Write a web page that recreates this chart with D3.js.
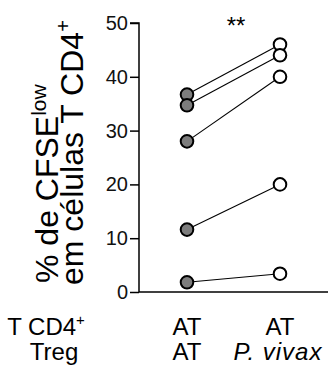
<!DOCTYPE html>
<html><head><meta charset="utf-8">
<script src="https://cdn.jsdelivr.net/npm/d3@7/dist/d3.min.js"></script>
<style>body{margin:0;background:#fff}svg{display:block}text{font-family:"Liberation Sans",Arial,sans-serif}</style>
</head><body>
<svg id="c" width="328" height="367"></svg>
<script>
const groups = ["AT|AT", "AT|P. vivax"];
const atValues = [36.7, 34.7, 28.0, 11.6, 1.8];
const vivaxValues = [46.0, 44.0, 40.0, 20.0, 3.4];
const yTicks = [0, 10, 20, 30, 40, 50];
const row1Labels = ["AT", "AT"];
const row2Labels = ["AT", "P. vivax"];

const svg = d3.select("#c");
const x = d3.scalePoint().domain(groups).range([187, 280]);
const y = d3.scaleLinear().domain([0, 50]).range([292, 23]);

// axes
const yAxis = d3.axisLeft(y).tickValues(yTicks).tickSize(9).tickPadding(2);
const gy = svg.append("g").attr("transform", "translate(139,0)").call(yAxis);
gy.select(".domain").attr("stroke", "#000").attr("stroke-width", 1.5).attr("d", `M-9,${y(50)}H0V${y(0)}`);
gy.selectAll(".tick line").attr("stroke-width", 1.5);
gy.selectAll(".tick text").attr("font-size", 20).attr("fill", "#111").attr("font-family", '"Liberation Sans",Arial,sans-serif');
svg.append("line").attr("x1", 139).attr("x2", 328).attr("y1", y(0)).attr("y2", y(0)).attr("stroke", "#000").attr("stroke-width", 1.5);

// pairs
const pairs = atValues.map((v, i) => ({a: v, b: vivaxValues[i]}));
svg.append("g").selectAll("line").data(pairs).join("line")
  .attr("x1", x(groups[0])).attr("x2", x(groups[1]))
  .attr("y1", d => y(d.a)).attr("y2", d => y(d.b))
  .attr("stroke", "#000").attr("stroke-width", 1.1);
svg.append("g").selectAll("circle").data(atValues).join("circle")
  .attr("cx", x(groups[0])).attr("cy", d => y(d)).attr("r", 6.3)
  .attr("fill", "#7d7d7d").attr("stroke", "#000").attr("stroke-width", 2);
svg.append("g").selectAll("circle").data(vivaxValues).join("circle")
  .attr("cx", x(groups[1])).attr("cy", d => y(d)).attr("r", 6.3)
  .attr("fill", "#fff").attr("stroke", "#000").attr("stroke-width", 2);

// significance
svg.append("text").attr("x", 236).attr("y", 34).attr("text-anchor", "middle").attr("font-size", 24).text("**");

// y title
const t1 = svg.append("text").attr("transform", "translate(58,283) rotate(-90)").attr("font-size", 32);
t1.append("tspan").text("% de CFSE");
t1.append("tspan").attr("font-size", 21).attr("dy", -12).text("low");
const t2 = svg.append("text").attr("transform", "translate(83,285) rotate(-90)").attr("font-size", 32);
t2.append("tspan").text("em células T CD4");
t2.append("tspan").attr("font-size", 20).attr("dy", -13).text("+");

// bottom labels
const lab1 = svg.append("text").attr("x", 46).attr("y", 335).attr("text-anchor", "middle").attr("font-size", 24);
lab1.append("tspan").text("T CD4");
lab1.append("tspan").attr("font-size", 15).attr("dy", -10).text("+");
svg.append("text").attr("x", 54).attr("y", 360).attr("text-anchor", "middle").attr("font-size", 24).text("Treg");
svg.append("g").selectAll("text").data(groups).join("text")
  .attr("x", (d) => x(d)).attr("y", 335).attr("text-anchor", "middle").attr("font-size", 24)
  .text((d, i) => row1Labels[i]);
svg.append("g").selectAll("text").data(groups).join("text")
  .attr("x", (d, i) => x(d) - (i ? 2 : 0)).attr("y", 360).attr("text-anchor", "middle").attr("font-size", 24)
  .attr("letter-spacing", (d, i) => i ? 1 : 0)
  .attr("font-style", (d, i) => i ? "italic" : "normal")
  .text((d, i) => row2Labels[i]);
</script>
</body></html>
